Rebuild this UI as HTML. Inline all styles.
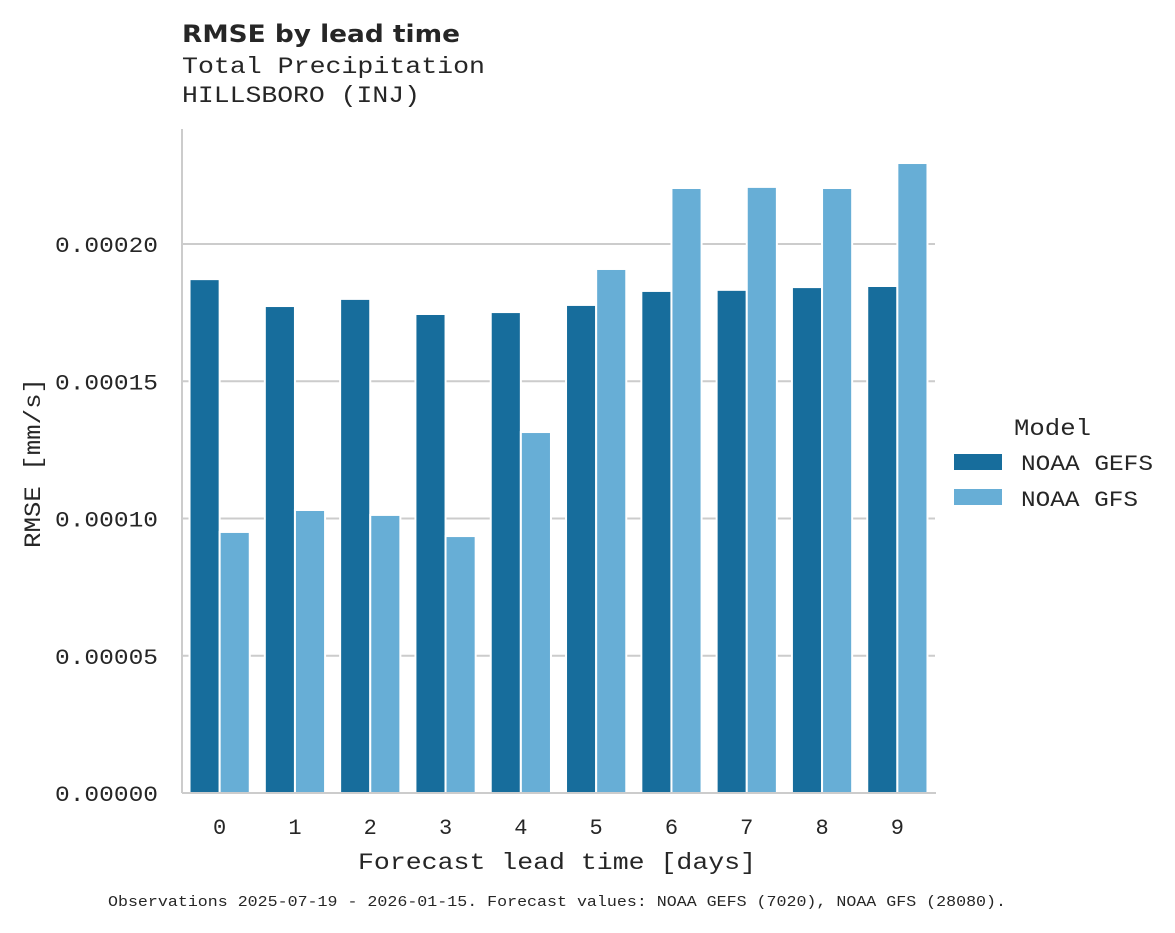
<!DOCTYPE html>
<html><head><meta charset="utf-8"><style>
body{margin:0;background:#fff;}
svg text{font-family:"Liberation Mono",monospace;fill:#262626;}
</style></head><body>
<svg width="1175" height="928" xmlns="http://www.w3.org/2000/svg">
<text x="182" y="42" textLength="278" lengthAdjust="spacingAndGlyphs" style="font-family:'DejaVu Sans',sans-serif;font-weight:bold;font-size:24px">RMSE by lead time</text>
<text x="182" y="73" font-size="23" textLength="303" lengthAdjust="spacingAndGlyphs">Total Precipitation</text>
<text x="182" y="102" font-size="23" textLength="238" lengthAdjust="spacingAndGlyphs">HILLSBORO (INJ)</text>
<g id="grid"></g>
<g id="bars"></g>
<line x1="182" y1="129" x2="182" y2="793" stroke="#ccc" stroke-width="2"/>
<line x1="182" y1="793" x2="936" y2="793" stroke="#ccc" stroke-width="2"/>
<g id="yt"></g><g id="xt"></g>
<text x="40" y="463" font-size="23" text-anchor="middle" textLength="170" lengthAdjust="spacingAndGlyphs" transform="rotate(-90 40 463)">RMSE [mm/s]</text>
<text x="557" y="869" font-size="23" text-anchor="middle" textLength="398" lengthAdjust="spacingAndGlyphs">Forecast lead time [days]</text>
<text x="557" y="906" font-size="15" text-anchor="middle" textLength="898" lengthAdjust="spacingAndGlyphs">Observations 2025-07-19 - 2026-01-15. Forecast values: NOAA GEFS (7020), NOAA GFS (28080).</text>
<g>
<text x="1014" y="435" font-size="23" textLength="77" lengthAdjust="spacingAndGlyphs">Model</text>
<rect x="954" y="454" width="48" height="16" fill="#176d9c"/>
<text x="1021" y="470" font-size="22" textLength="132" lengthAdjust="spacingAndGlyphs">NOAA GEFS</text>
<rect x="954" y="489" width="48" height="16" fill="#67aed6"/>
<text x="1021" y="506" font-size="22" textLength="117" lengthAdjust="spacingAndGlyphs">NOAA GFS</text>
</g>
</svg>
<script>
const categories=[0,1,2,3,4,5,6,7,8,9];
const gefs=[0.0001872,0.0001774,0.00018,0.0001745,0.0001752,0.0001778,0.0001829,0.0001833,0.0001843,0.0001847];
const gfs=[0.0000951,0.0001031,0.0001013,0.0000936,0.0001315,0.0001909,0.0002204,0.0002208,0.0002204,0.0002295];
const yTicks=[0,0.00005,0.0001,0.00015,0.0002];
const yTickLabels=["0.00000","0.00005","0.00010","0.00015","0.00020"];
const NS="http://www.w3.org/2000/svg";
const y=v=>793-v/0.0002*549;
const step=(935-182)/categories.length;
const xc=i=>182+step*(i+0.5);
function mk(t,a,p){const e=document.createElementNS(NS,t);for(const k in a)e.setAttribute(k,a[k]);document.getElementById(p).appendChild(e);return e;}
yTicks.forEach((v,i)=>{
 if(v>0){const l=mk('line',{x1:182,x2:935,y1:y(v),y2:y(v),stroke:'#ccc','stroke-width':2},'grid');
 
 }
 const t=mk('text',{x:158,y:y(v)+8,'font-size':22,'text-anchor':'end',textLength:103,lengthAdjust:'spacingAndGlyphs'},'yt');t.textContent=yTickLabels[i];
 
 
});
const bw=step*0.4;
categories.forEach((c,i)=>{
 const b1=mk('rect',{x:xc(i)-bw,y:y(gefs[i]),width:bw,height:793-y(gefs[i]),fill:'#176d9c',stroke:'#fff','stroke-width':2},'bars');
 
 
 const b2=mk('rect',{x:xc(i),y:y(gfs[i]),width:bw,height:793-y(gfs[i]),fill:'#67aed6',stroke:'#fff','stroke-width':2},'bars');
 
 
 const t=mk('text',{x:xc(i),y:834,'font-size':22,'text-anchor':'middle'},'xt');t.textContent=c;
 
 
});
</script>
</body></html>
